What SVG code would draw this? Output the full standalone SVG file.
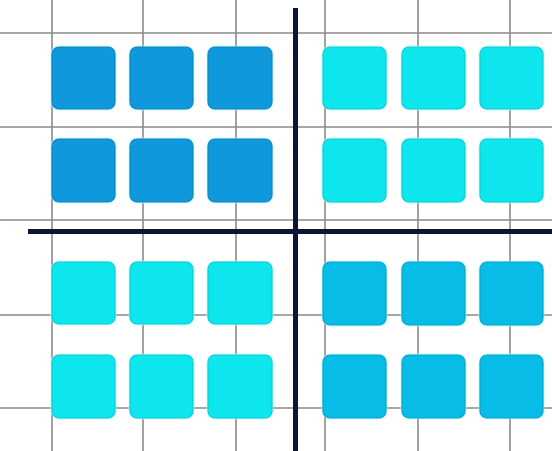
<svg xmlns="http://www.w3.org/2000/svg" width="552" height="451" viewBox="0 0 552 451">
<defs>
<style>
.grid{stroke:#8a8a8a;stroke-width:1.6;fill:none}
.axis{stroke:#0c1633;stroke-width:5;fill:none}
.sq{stroke-width:1.2}
.halo{fill:none;stroke:#bff6fb;stroke-width:3;opacity:0.7}
.blue{fill:#0f98dc;stroke:#0d86c2}
.cyan{fill:#0ce6ec;stroke:#0bcfd6}
.mid{fill:#07bce6;stroke:#06a6cc}
</style>
</defs>
<rect width="552" height="451" fill="#ffffff"/>
<g id="grid">
<line class="grid" x1="52" y1="0" x2="52" y2="451"/>
<line class="grid" x1="143" y1="0" x2="143" y2="451"/>
<line class="grid" x1="236" y1="0" x2="236" y2="451"/>
<line class="grid" x1="325" y1="0" x2="325" y2="451"/>
<line class="grid" x1="418" y1="0" x2="418" y2="451"/>
<line class="grid" x1="510" y1="0" x2="510" y2="451"/>
<line class="grid" x1="0" y1="33" x2="552" y2="33"/>
<line class="grid" x1="0" y1="127" x2="552" y2="127"/>
<line class="grid" x1="0" y1="220" x2="552" y2="220"/>
<line class="grid" x1="0" y1="315" x2="552" y2="315"/>
<line class="grid" x1="0" y1="408" x2="552" y2="408"/>
</g>
<g id="q-top-left">
<rect class="halo" x="52" y="47" width="63" height="62" rx="7"/><rect class="sq blue" x="52" y="47" width="63" height="62" rx="7"/>
<rect class="halo" x="130" y="47" width="63" height="62" rx="7"/><rect class="sq blue" x="130" y="47" width="63" height="62" rx="7"/>
<rect class="halo" x="208" y="47" width="64" height="62" rx="7"/><rect class="sq blue" x="208" y="47" width="64" height="62" rx="7"/>
<rect class="halo" x="52" y="139" width="63" height="63" rx="7"/><rect class="sq blue" x="52" y="139" width="63" height="63" rx="7"/>
<rect class="halo" x="130" y="139" width="63" height="63" rx="7"/><rect class="sq blue" x="130" y="139" width="63" height="63" rx="7"/>
<rect class="halo" x="208" y="139" width="64" height="63" rx="7"/><rect class="sq blue" x="208" y="139" width="64" height="63" rx="7"/>
</g>
<g id="q-top-right">
<rect class="halo" x="323" y="47" width="63" height="62" rx="7"/><rect class="sq cyan" x="323" y="47" width="63" height="62" rx="7"/>
<rect class="halo" x="402" y="47" width="63" height="62" rx="7"/><rect class="sq cyan" x="402" y="47" width="63" height="62" rx="7"/>
<rect class="halo" x="480" y="47" width="63" height="62" rx="7"/><rect class="sq cyan" x="480" y="47" width="63" height="62" rx="7"/>
<rect class="halo" x="323" y="139" width="63" height="63" rx="7"/><rect class="sq cyan" x="323" y="139" width="63" height="63" rx="7"/>
<rect class="halo" x="402" y="139" width="63" height="63" rx="7"/><rect class="sq cyan" x="402" y="139" width="63" height="63" rx="7"/>
<rect class="halo" x="480" y="139" width="63" height="63" rx="7"/><rect class="sq cyan" x="480" y="139" width="63" height="63" rx="7"/>
</g>
<g id="q-bottom-left">
<rect class="halo" x="52" y="262" width="63" height="62" rx="7"/><rect class="sq cyan" x="52" y="262" width="63" height="62" rx="7"/>
<rect class="halo" x="130" y="262" width="63" height="62" rx="7"/><rect class="sq cyan" x="130" y="262" width="63" height="62" rx="7"/>
<rect class="halo" x="208" y="262" width="64" height="62" rx="7"/><rect class="sq cyan" x="208" y="262" width="64" height="62" rx="7"/>
<rect class="halo" x="52" y="355" width="63" height="63" rx="7"/><rect class="sq cyan" x="52" y="355" width="63" height="63" rx="7"/>
<rect class="halo" x="130" y="355" width="63" height="63" rx="7"/><rect class="sq cyan" x="130" y="355" width="63" height="63" rx="7"/>
<rect class="halo" x="208" y="355" width="64" height="63" rx="7"/><rect class="sq cyan" x="208" y="355" width="64" height="63" rx="7"/>
</g>
<g id="q-bottom-right">
<rect class="halo" x="323" y="262" width="63" height="63" rx="7"/><rect class="sq mid" x="323" y="262" width="63" height="63" rx="7"/>
<rect class="halo" x="402" y="262" width="63" height="63" rx="7"/><rect class="sq mid" x="402" y="262" width="63" height="63" rx="7"/>
<rect class="halo" x="480" y="262" width="63" height="63" rx="7"/><rect class="sq mid" x="480" y="262" width="63" height="63" rx="7"/>
<rect class="halo" x="323" y="355" width="63" height="63" rx="7"/><rect class="sq mid" x="323" y="355" width="63" height="63" rx="7"/>
<rect class="halo" x="402" y="355" width="63" height="63" rx="7"/><rect class="sq mid" x="402" y="355" width="63" height="63" rx="7"/>
<rect class="halo" x="480" y="355" width="63" height="63" rx="7"/><rect class="sq mid" x="480" y="355" width="63" height="63" rx="7"/>
</g>
<g id="axes">
<line class="axis" x1="295.5" y1="8" x2="295.5" y2="451"/>
<line class="axis" x1="28" y1="231.5" x2="552" y2="231.5"/>
</g>
</svg>
